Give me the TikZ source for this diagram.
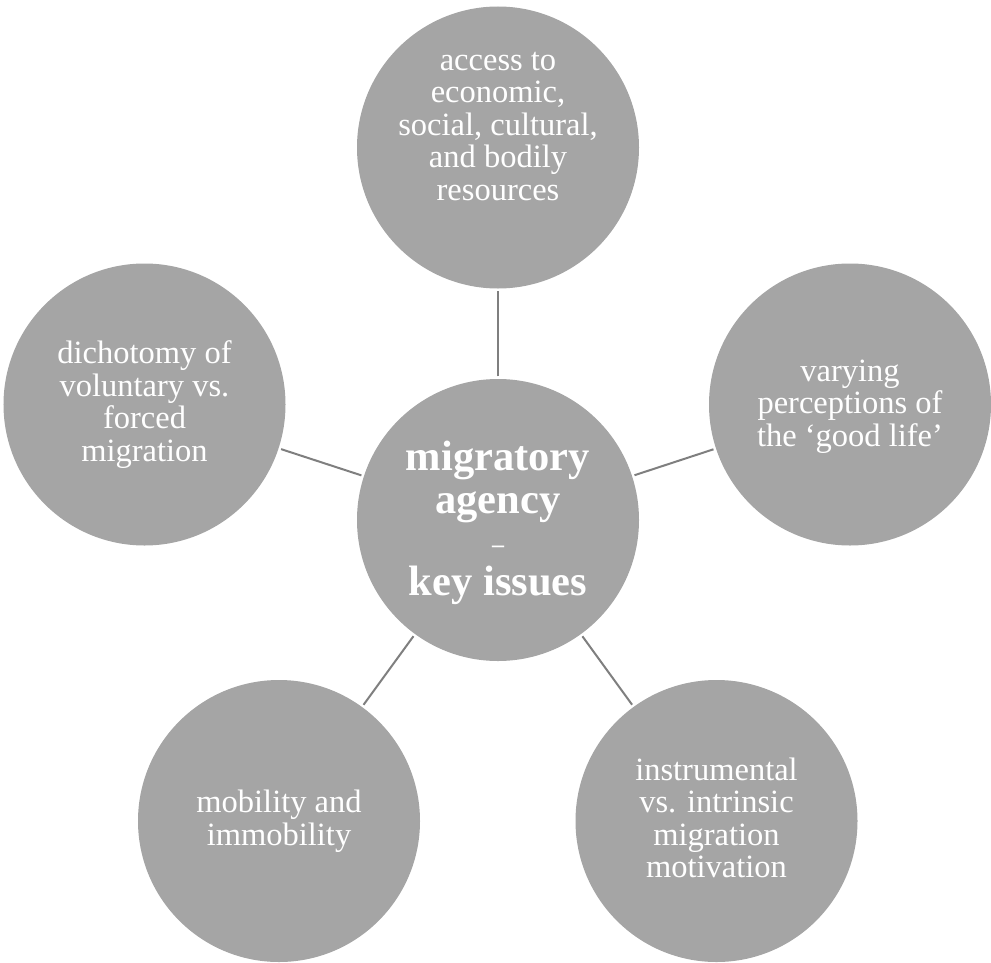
\documentclass[tikz,border=0pt]{standalone}
\usepackage{fontspec}
\setmainfont{Liberation Serif}
\definecolor{circfill}{HTML}{A5A5A5}
\definecolor{linkgray}{HTML}{7F7F7F}
\newcommand{\fstrut}{\rule{0pt}{22bp}}
\newcommand{\lstrut}{\rule[-7bp]{0pt}{7bp}}
\begin{document}
\begin{tikzpicture}[x=1bp,y=-1bp,
  issue/.style={circle, fill=circfill, draw=none, minimum size=282bp, inner sep=0pt},
  issuetext/.style={text=white, align=center, inner sep=0pt, font=\fontsize{32.5bp}{32.5bp}\selectfont},
  centertext/.style={text=white, inner sep=0pt, anchor=base, font=\bfseries\fontsize{42.5bp}{43bp}\selectfont},
  link/.style={draw=linkgray, line width=2bp, shorten >=2.5bp, shorten <=2.5bp}]
\useasboundingbox (0,0) rectangle (991,963);
% circles
\node[issue] (top) at (498,147.5) {};
\node[issue] (left) at (144.5,404.5) {};
\node[issue] (right) at (850,404.5) {};
\node[issue] (center) at (498,520) {};
\node[issue] (botleft) at (279,821) {};
\node[issue] (botright) at (716.5,821) {};
% texts
\node[issuetext] (toptext) at (498,127.5) {\fstrut access to\\economic,\\social, cultural,\\and bodily\\resources\lstrut};
\node[issuetext] (lefttext) at (left) {\fstrut dichotomy of\\voluntary vs.\\forced\\migration\lstrut};
\node[issuetext] (righttext) at ([yshift=-2bp]right.center) {\fstrut varying\\perceptions of\\the ‘good life’\lstrut};
\node[issuetext] (bltext) at (botleft) {\fstrut mobility and\\immobility\lstrut};
\node[issuetext] (brtext) at (botright) {\fstrut instrumental\\vs. intrinsic\\migration\\motivation\lstrut};
\node[centertext] (ct1) at (498,470) {migratory};
\node[centertext] (ct2) at (498,513) {agency};
\node[centertext, font=\bfseries\fontsize{24bp}{24bp}\selectfont] (ct3) at (498,552) {–};
\node[centertext] (ct4) at (498,595) {key issues};
% connectors
\draw[link] (center) -- (top);
\draw[link] (center) -- (left);
\draw[link] (center) -- (right);
\draw[link] (center) -- (botleft);
\draw[link] (center) -- (botright);
\end{tikzpicture}
\end{document}
